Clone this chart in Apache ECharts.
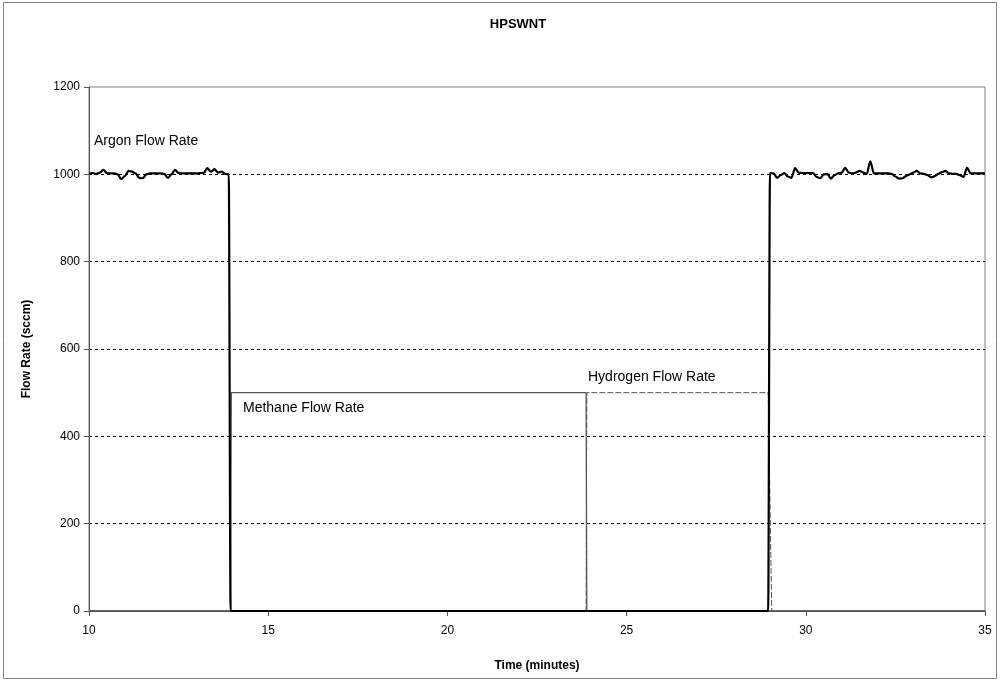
<!DOCTYPE html>
<html>
<head>
<meta charset="utf-8">
<title>HPSWNT</title>
<script src="https://cdn.jsdelivr.net/npm/echarts@6/dist/echarts.min.js"></script>
<style>
  html, body { margin: 0; padding: 0; background: #fff; }
  #chart { width: 1001px; height: 682px; }
</style>
</head>
<body>
<div id="chart"></div>
<script>
// Gas flow rates during the HPSWNT run (time in minutes, flow in sccm)
const argonTime = [
  10.0, 10.1, 10.2, 10.3, 10.4, 10.5, 10.6, 10.7, 10.8, 10.9,
  11.0, 11.1, 11.2, 11.3, 11.4, 11.5, 11.6, 11.7, 11.8, 11.9,
  12.0, 12.1, 12.2, 12.3, 12.4, 12.5, 12.6, 12.7, 12.8, 12.9,
  13.0, 13.1, 13.2, 13.3, 13.4, 13.5, 13.6, 13.7, 13.8, 13.9,
  13.95, 28.95,
  29.0, 29.1, 29.2, 29.3, 29.4, 29.5, 29.6, 29.7, 29.8, 29.9,
  30.0, 30.1, 30.2, 30.3, 30.4, 30.5, 30.6, 30.7, 30.8, 30.9,
  31.0, 31.1, 31.2, 31.3, 31.4, 31.5, 31.6, 31.7, 31.8, 31.9,
  32.0, 32.1, 32.2, 32.3, 32.4, 32.5, 32.6, 32.7, 32.8, 32.9,
  33.0, 33.1, 33.2, 33.3, 33.4, 33.5, 33.6, 33.7, 33.8, 33.9,
  34.0, 34.1, 34.2, 34.3, 34.4, 34.5, 34.6, 34.7, 34.8, 34.9, 35.0
];
const argonFlow = [
  1002, 1003, 1001, 1004, 1010, 1003, 1002, 1002, 1000, 989,
  996, 1008, 1006, 1002, 992, 991, 1000, 1002, 1002, 1002,
  1002, 1001, 992, 1000, 1010, 1003, 1002, 1002, 1002, 1002,
  1002, 1003, 1003, 1014, 1006, 1012, 1004, 1006, 1001, 1000,
  0, 0,
  1003, 1002, 992, 998, 1003, 995, 992, 1014, 1004, 1003,
  1003, 1003, 1003, 994, 991, 1000, 1001, 990, 998, 1002,
  1004, 1015, 1004, 1002, 1004, 1008, 1004, 1001, 1030, 1002,
  1002, 1002, 1002, 1002, 1001, 995, 990, 991, 996, 1000,
  1004, 1008, 1002, 1001, 998, 993, 996, 1001, 1005, 1008,
  1002, 1001, 1001, 998, 994, 1015, 1002, 1002, 1002, 1002, 1002
];

const methaneTime = [10.0, 13.95, 13.97, 23.87, 23.89, 35.0];
const methaneFlow = [0, 0, 500, 500, 0, 0];

const hydrogenTime = [10.0, 23.87, 23.89, 28.95, 29.05, 35.0];
const hydrogenFlow = [0, 0, 500, 500, 0, 0];

const flowTicks = [0, 200, 400, 600, 800, 1000, 1200];
const timeTicks = [10, 15, 20, 25, 30, 35];

const seriesNames = ['Argon Flow Rate', 'Methane Flow Rate', 'Hydrogen Flow Rate'];

function pairs(t, v) { return t.map((x, i) => [x, v[i]]); }

const FONT = '"Liberation Sans", Arial, sans-serif';

const chart = echarts.init(document.getElementById('chart'), null, { renderer: 'canvas' });

chart.setOption({
  animation: false,
  backgroundColor: '#ffffff',
  textStyle: { fontFamily: FONT },
  title: {
    text: 'HPSWNT',
    left: 513,
    top: 13,
    textAlign: 'center',
    textStyle: { fontFamily: FONT, fontSize: 13, fontWeight: 'bold', color: '#000' }
  },
  grid: {
    left: 89, right: 16, top: 87, bottom: 71,
    show: true, borderColor: '#808080', borderWidth: 1, backgroundColor: '#ffffff'
  },
  xAxis: {
    type: 'value',
    min: timeTicks[0],
    max: timeTicks[timeTicks.length - 1],
    interval: 5,
    name: 'Time (minutes)',
    nameLocation: 'middle',
    nameGap: 49,
    nameTextStyle: { fontFamily: FONT, fontSize: 12, fontWeight: 'bold', color: '#000' },
    axisLine: { lineStyle: { color: '#555', width: 1 } },
    axisTick: { show: true, inside: false, length: 5, lineStyle: { color: '#555' } },
    axisLabel: { fontFamily: FONT, fontSize: 12, color: '#000', margin: 14, formatter: v => String(v) },
    splitLine: { show: false }
  },
  yAxis: {
    type: 'value',
    min: flowTicks[0],
    max: flowTicks[flowTicks.length - 1],
    interval: 200,
    name: 'Flow Rate (sccm)',
    nameLocation: 'middle',
    nameGap: 56,
    nameTextStyle: { fontFamily: FONT, fontSize: 12, fontWeight: 'bold', color: '#000' },
    axisLine: { show: true, lineStyle: { color: '#555', width: 1 } },
    axisTick: { show: true, inside: false, length: 5, lineStyle: { color: '#555' } },
    axisLabel: { fontFamily: FONT, fontSize: 12, color: '#000', margin: 9, formatter: v => String(v) },
    splitLine: {
      show: true,
      lineStyle: {
        color: ['#000', '#000', '#000', '#000', '#000', '#000', 'rgba(0,0,0,0)'],
        type: [3, 3],
        width: 1
      }
    }
  },
  series: [
    {
      name: seriesNames[2],
      type: 'line',
      data: pairs(hydrogenTime, hydrogenFlow),
      showSymbol: false,
      z: 3,
      lineStyle: { color: '#555', width: 1, type: [6, 2] }
    },
    {
      name: seriesNames[1],
      type: 'line',
      data: pairs(methaneTime, methaneFlow),
      showSymbol: false,
      z: 4,
      lineStyle: { color: '#555', width: 1.3 }
    },
    {
      name: seriesNames[0],
      type: 'line',
      data: pairs(argonTime, argonFlow),
      showSymbol: false,
      smooth: 0.3,
      smoothMonotone: 'x',
      z: 5,
      lineStyle: { color: '#000', width: 2.2, join: 'round' }
    }
  ],
  graphic: [
    {
      type: 'rect',
      shape: { x: 3.5, y: 2.5, width: 993, height: 676 },
      style: { fill: 'none', stroke: '#808080', lineWidth: 1 },
      silent: true,
      z: 100
    },
    {
      type: 'text', left: 94, top: 134,
      style: { text: seriesNames[0], font: '14px ' + FONT, fill: '#000' }
    },
    {
      type: 'text', left: 243, top: 401,
      style: { text: seriesNames[1], font: '14px ' + FONT, fill: '#000' }
    },
    {
      type: 'text', left: 588, top: 370,
      style: { text: seriesNames[2], font: '14px ' + FONT, fill: '#000' }
    }
  ]
});
</script>
</body>
</html>
